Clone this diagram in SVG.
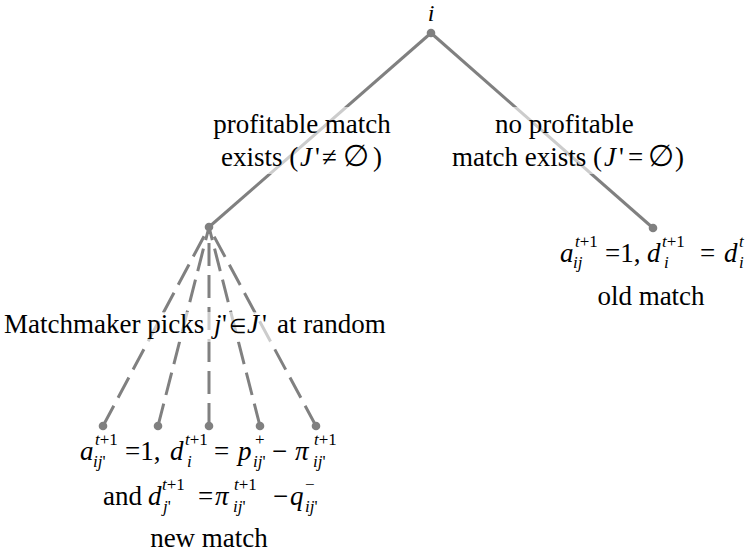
<svg xmlns="http://www.w3.org/2000/svg" width="747" height="556" viewBox="0 0 747 556">
<style>
text{font-family:"Liberation Serif","Times New Roman",serif;font-size:27px;fill:#000}
.it{font-style:italic}
.s{font-size:17px}
.sym{font-size:30px}
.el{font-size:20px}
.edge{stroke:#808080;stroke-width:3;fill:none;stroke-linecap:butt}
.dash{stroke-dasharray:23 9}
.node{fill:#808080}
.veil{fill:#fff;fill-opacity:0.6}
</style>
<rect width="747" height="556" fill="#fff"/>
<g id="connectors">
<line class="edge" x1="431" y1="33" x2="209" y2="227"/>
<line class="edge" x1="431" y1="33" x2="653" y2="228"/>
<line class="edge dash" x1="103" y1="426" x2="209" y2="227"/>
<line class="edge dash" x1="158" y1="426" x2="209" y2="227"/>
<line class="edge dash" x1="209" y1="426" x2="209" y2="227"/>
<line class="edge dash" x1="260" y1="426" x2="209" y2="227"/>
<line class="edge dash" x1="316" y1="426" x2="209" y2="227"/>
</g>
<g id="root">
<circle class="node" cx="431" cy="33" r="4.3"/>
<text class="it" x="431" y="21" text-anchor="middle" style="font-size:24px">i</text>
</g>
<g id="label-profitable">
<rect class="veil" x="210" y="107" width="184" height="67"/>
<text x="302" y="133" text-anchor="middle">profitable match</text>
<text x="221" y="166">exists (<tspan class="it" x="300">J</tspan><tspan x="315">'</tspan><tspan x="322">≠</tspan><tspan class="sym" x="343">∅</tspan><tspan x="373">)</tspan></text>
</g>
<g id="label-noprofitable">
<rect class="veil" x="450" y="107" width="236" height="67"/>
<text x="495" y="133">no profitable</text>
<text x="452" y="166">match exists (<tspan class="it" x="604">J</tspan><tspan x="619">'</tspan><tspan x="628">=</tspan><tspan class="sym" x="648">∅</tspan><tspan x="675">)</tspan></text>
</g>
<g id="choice">
<circle class="node" cx="209" cy="227" r="4.3"/>
</g>
<g id="label-matchmaker">
<rect class="veil" x="2" y="312" width="410" height="30"/>
<text x="4" y="333">Matchmaker picks <tspan class="it" x="214">j</tspan><tspan x="222">'</tspan><tspan class="el" x="229">∈</tspan><tspan class="it" x="247">J</tspan><tspan x="262">'</tspan><tspan x="277">at random</tspan></text>
</g>
<g id="old-match">
<circle class="node" cx="653" cy="228" r="4.3"/>
<text x="560" y="262"><tspan class="it">a</tspan><tspan class="s it" x="575" y="247">t</tspan><tspan class="s" y="247">+1</tspan><tspan class="s it" x="573" y="268">ij</tspan><tspan x="605" y="262">=1,</tspan><tspan class="it" x="647">d</tspan><tspan class="s it" x="662" y="247">t</tspan><tspan class="s" y="247">+1</tspan><tspan class="s it" x="664" y="268">i</tspan><tspan x="700" y="262">=</tspan><tspan class="it" x="724">d</tspan><tspan class="s it" x="739" y="247">t</tspan><tspan class="s it" x="739" y="268">i</tspan></text>
<text x="651" y="305" text-anchor="middle">old match</text>
</g>
<g id="leaf-1"><circle class="node" cx="103" cy="426" r="4.3"/></g>
<g id="leaf-2"><circle class="node" cx="158" cy="426" r="4.3"/></g>
<g id="leaf-3"><circle class="node" cx="209" cy="426" r="4.3"/></g>
<g id="leaf-4"><circle class="node" cx="260" cy="426" r="4.3"/></g>
<g id="leaf-5"><circle class="node" cx="316" cy="426" r="4.3"/></g>
<g id="new-match">
<text x="80" y="460"><tspan class="it">a</tspan><tspan class="s it" x="95" y="445">t</tspan><tspan class="s" y="445">+1</tspan><tspan class="s it" x="93" y="467">ij</tspan><tspan class="s" y="467">'</tspan><tspan x="125" y="460">=1,</tspan><tspan class="it" x="170">d</tspan><tspan class="s it" x="185" y="445">t</tspan><tspan class="s" y="445">+1</tspan><tspan class="s it" x="187" y="467">i</tspan><tspan x="214" y="460">=</tspan><tspan class="it" x="238">p</tspan><tspan class="s" x="255" y="445">+</tspan><tspan class="s it" x="253" y="467">ij</tspan><tspan class="s" y="467">'</tspan><tspan x="272" y="460">−</tspan><tspan class="it" x="295">π</tspan><tspan class="s it" x="314" y="445">t</tspan><tspan class="s" y="445">+1</tspan><tspan class="s it" x="313" y="467">ij</tspan><tspan class="s" y="467">'</tspan></text>
<text x="103" y="505">and<tspan class="it" x="148">d</tspan><tspan class="s it" x="162" y="490">t</tspan><tspan class="s" y="490">+1</tspan><tspan class="s it" x="163" y="512">j</tspan><tspan class="s" y="512">'</tspan><tspan x="198" y="505">=</tspan><tspan class="it" x="215">π</tspan><tspan class="s it" x="234" y="490">t</tspan><tspan class="s" y="490">+1</tspan><tspan class="s it" x="233" y="512">ij</tspan><tspan class="s" y="512">'</tspan><tspan x="273" y="505">−</tspan><tspan class="it" x="290">q</tspan><tspan class="s" x="305" y="490">−</tspan><tspan class="s it" x="305" y="512">ij</tspan><tspan class="s" y="512">'</tspan></text>
<text x="209" y="547" text-anchor="middle">new match</text>
</g>
</svg>
